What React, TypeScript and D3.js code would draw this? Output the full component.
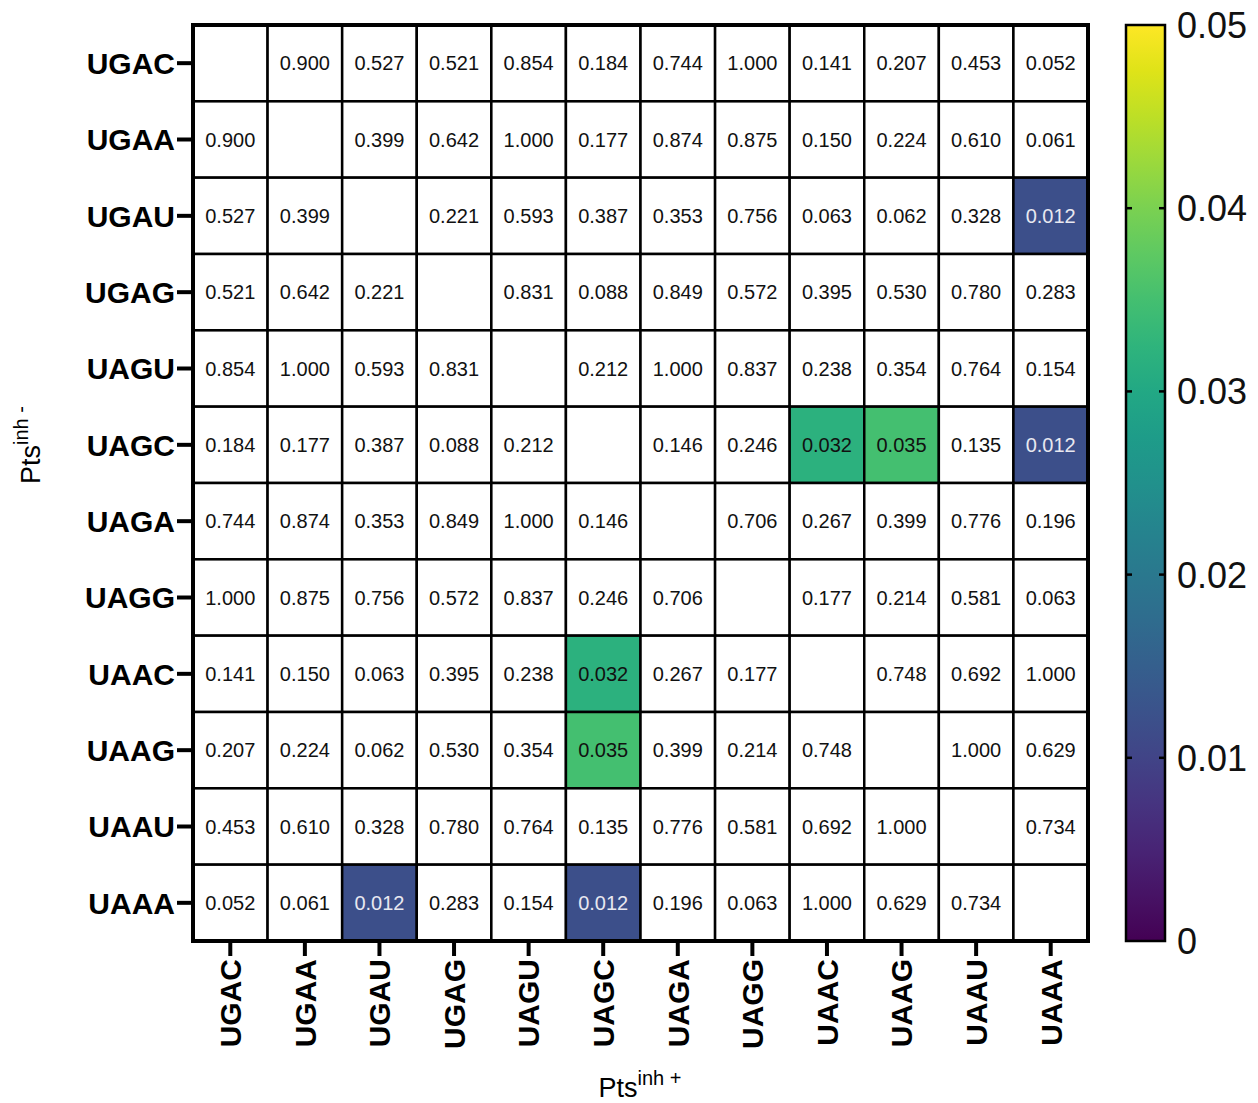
import React from 'react';
import * as d3 from 'd3';

const codons = ['UGAC', 'UGAA', 'UGAU', 'UGAG', 'UAGU', 'UAGC', 'UAGA', 'UAGG', 'UAAC', 'UAAG', 'UAAU', 'UAAA'];

// p-values, row = Pts inh -, column = Pts inh +; null on the diagonal
const rowUGAC = [null, 0.900, 0.527, 0.521, 0.854, 0.184, 0.744, 1.000, 0.141, 0.207, 0.453, 0.052];
const rowUGAA = [0.900, null, 0.399, 0.642, 1.000, 0.177, 0.874, 0.875, 0.150, 0.224, 0.610, 0.061];
const rowUGAU = [0.527, 0.399, null, 0.221, 0.593, 0.387, 0.353, 0.756, 0.063, 0.062, 0.328, 0.012];
const rowUGAG = [0.521, 0.642, 0.221, null, 0.831, 0.088, 0.849, 0.572, 0.395, 0.530, 0.780, 0.283];
const rowUAGU = [0.854, 1.000, 0.593, 0.831, null, 0.212, 1.000, 0.837, 0.238, 0.354, 0.764, 0.154];
const rowUAGC = [0.184, 0.177, 0.387, 0.088, 0.212, null, 0.146, 0.246, 0.032, 0.035, 0.135, 0.012];
const rowUAGA = [0.744, 0.874, 0.353, 0.849, 1.000, 0.146, null, 0.706, 0.267, 0.399, 0.776, 0.196];
const rowUAGG = [1.000, 0.875, 0.756, 0.572, 0.837, 0.246, 0.706, null, 0.177, 0.214, 0.581, 0.063];
const rowUAAC = [0.141, 0.150, 0.063, 0.395, 0.238, 0.032, 0.267, 0.177, null, 0.748, 0.692, 1.000];
const rowUAAG = [0.207, 0.224, 0.062, 0.530, 0.354, 0.035, 0.399, 0.214, 0.748, null, 1.000, 0.629];
const rowUAAU = [0.453, 0.610, 0.328, 0.780, 0.764, 0.135, 0.776, 0.581, 0.692, 1.000, null, 0.734];
const rowUAAA = [0.052, 0.061, 0.012, 0.283, 0.154, 0.012, 0.196, 0.063, 1.000, 0.629, 0.734, null];

const rows = [rowUGAC, rowUGAA, rowUGAU, rowUGAG, rowUAGU, rowUAGC, rowUAGA, rowUAGG, rowUAAC, rowUAAG, rowUAAU, rowUAAA];

const colorTicks = [0, 0.01, 0.02, 0.03, 0.04, 0.05];
const colorMax = 0.05;

const font = 'Arial, "Liberation Sans", Helvetica, sans-serif';

const App = () => {
  const left = 193;
  const right = 1088;
  const top = 25;
  const bottom = 941;

  const x = d3.scaleBand().domain(codons).range([left, right]);
  const y = d3.scaleBand().domain(codons).range([top, bottom]);
  const color = d3.scaleSequential(d3.interpolateViridis).domain([0, colorMax]);

  const barX = 1126;
  const barW = 39;
  const cy = d3.scaleLinear().domain([0, colorMax]).range([bottom, top]);

  const cells = [];
  rows.forEach((row, i) => {
    row.forEach((v, j) => {
      cells.push({ r: codons[i], c: codons[j], v });
    });
  });

  const stops = d3.range(0, 1.0001, 0.05);

  return (
    <svg width={1258} height={1103} style={{ display: 'block', position: 'absolute', left: 0, top: 0 }}>
      <defs>
        <linearGradient id="viridis" x1="0" y1="1" x2="0" y2="0">
          {stops.map(t => (
            <stop key={t} offset={`${t * 100}%`} stopColor={d3.interpolateViridis(t)} />
          ))}
        </linearGradient>
      </defs>
      <rect width={1258} height={1103} fill="white" />

      {cells.map(d => {
        const filled = d.v !== null && d.v <= colorMax;
        const fill = filled ? color(d.v) : 'white';
        const light = filled && d.v < 0.02;
        return (
          <g key={d.r + d.c}>
            <rect x={x(d.c)} y={y(d.r)} width={x.bandwidth()} height={y.bandwidth()}
              fill={fill} stroke="#000" strokeWidth={2.5} />
            {d.v !== null && (
              <text x={x(d.c) + x.bandwidth() / 2} y={y(d.r) + y.bandwidth() / 2}
                dy="0.36em" textAnchor="middle" fontFamily={font} fontSize={20}
                fill={light ? '#e8e8f0' : '#111'}>{d.v.toFixed(3)}</text>
            )}
          </g>
        );
      })}
      <rect x={left} y={top} width={right - left} height={bottom - top} fill="none" stroke="#000" strokeWidth={4} />

      {/* y axis */}
      {codons.map(c => {
        const yc = y(c) + y.bandwidth() / 2;
        return (
          <g key={'y' + c}>
            <line x1={177} x2={left} y1={yc} y2={yc} stroke="#000" strokeWidth={4} />
            <text x={175} y={yc} dy="0.36em" textAnchor="end" fontFamily={font} fontWeight="bold" fontSize={30}>{c}</text>
          </g>
        );
      })}

      {/* x axis */}
      {codons.map(c => {
        const xc = x(c) + x.bandwidth() / 2;
        return (
          <g key={'x' + c}>
            <line x1={xc} x2={xc} y1={bottom} y2={956} stroke="#000" strokeWidth={4} />
            <text transform={`translate(${xc},959) rotate(-90)`} dy="0.36em" textAnchor="end"
              fontFamily={font} fontWeight="bold" fontSize={30}>{c}</text>
          </g>
        );
      })}

      {/* axis titles */}
      <text x={640} y={1097} textAnchor="middle" fontFamily={font} fontSize={27}>
        Pts<tspan fontSize={20} dy={-12}>inh +</tspan>
      </text>
      <text transform="translate(40,445) rotate(-90)" textAnchor="middle" fontFamily={font} fontSize={27}>
        Pts<tspan fontSize={20} dy={-12}>inh -</tspan>
      </text>

      {/* color bar */}
      <rect x={barX} y={top} width={barW} height={bottom - top} fill="url(#viridis)" stroke="#000" strokeWidth={2.5} />
      {colorTicks.map(t => (
        <g key={'c' + t}>
          {t > 0 && t < colorMax && (
            <>
              <line x1={barX} x2={barX + 6} y1={cy(t)} y2={cy(t)} stroke="#000" strokeWidth={2.5} />
              <line x1={barX + barW - 6} x2={barX + barW} y1={cy(t)} y2={cy(t)} stroke="#000" strokeWidth={2.5} />
            </>
          )}
          <text x={1177} y={cy(t)} dy="0.36em" fontFamily={font} fontSize={36} fill="#111">
            {t === 0 ? '0' : t.toFixed(2)}
          </text>
        </g>
      ))}
    </svg>
  );
};

export default App;
